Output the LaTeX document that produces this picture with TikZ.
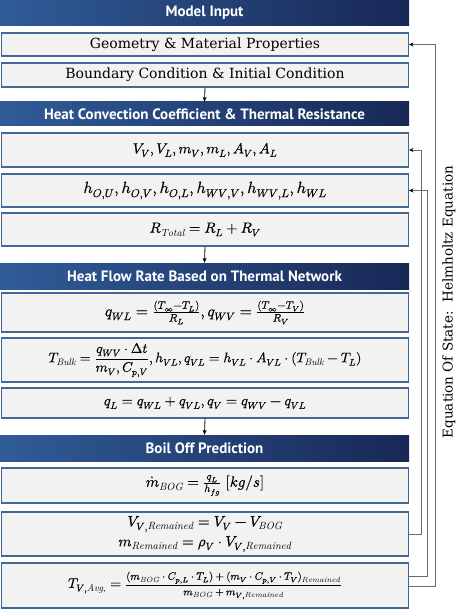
\documentclass[tikz,border=0pt]{standalone}
\usepackage{fontspec}
\usepackage{unicode-math}
\setmathfont{Latin Modern Math}[FakeBold=0.5]
\newfontfamily\hdfont{PT Sans}
\newfontfamily\bxfont{DejaVu Serif}
\usetikzlibrary{arrows.meta}
\definecolor{hdL}{RGB}{48,92,152}
\definecolor{hdR}{RGB}{24,40,86}
\definecolor{boxfill}{RGB}{242,242,242}
\definecolor{boxline}{RGB}{66,104,150}
\definecolor{connc}{RGB}{105,105,105}
\begin{document}
\begin{tikzpicture}[x=1pt,y=-1pt,
  hdr/.style={left color=hdL, right color=hdR, draw=none, minimum width=409pt, inner sep=0pt,
    font=\hdfont\bfseries\fontsize{15}{17}\selectfont, text=white},
  bx/.style={draw=boxline, fill=boxfill, line width=1.3pt, minimum width=406.7pt, inner sep=0pt, align=center},
  tx/.style={font=\bxfont\fontsize{14}{16}\selectfont},
  downarr/.style={-{Stealth[length=5pt,width=4pt]}, line width=0.8pt, black},
  fb/.style={draw=connc, line width=0.9pt, -{Stealth[length=4.5pt,width=4pt,color=black]}}
]
\useasboundingbox (0,0) rectangle (465,609);

\node[hdr, minimum height=26pt] (h1) at (204.5,13) {Model Input};
\node[bx, tx, minimum height=23pt] (geo) at (205,44.5) {Geometry \& Material Properties};
\node[bx, tx, minimum height=24pt] (bc) at (205,75) {Boundary Condition \& Initial Condition};

\node[hdr, minimum height=24pt] (h2) at (204.5,114) {Heat Convection Coefficient \& Thermal Resistance};
\node[bx, minimum height=34pt, font=\fontsize{14.5}{16}\selectfont] (bv) at (205,150) {$V_V, V_L, m_V, m_L, A_V, A_L$};
\node[bx, minimum height=33pt, font=\fontsize{16.3}{19}\selectfont] (bh) at (205,190.5) {$h_{O,U}, h_{O,V}, h_{O,L}, h_{WV,V}, h_{WV,L}, h_{WL}$};
\node[bx, minimum height=33pt, font=\fontsize{14.6}{17}\selectfont] (br) at (205,229.5) {$R_{\mathit{Total}} = R_L + R_V$};

\node[hdr, minimum height=26pt] (h3) at (204.5,276) {Heat Flow Rate Based on Thermal Network};
\node[bx, minimum height=39pt, font=\fontsize{15.6}{18}\selectfont] (bq) at (205,312.5)
  {$q_{WL} = \frac{(T_\infty - T_L)}{R_L}, q_{WV} = \frac{(T_\infty - T_V)}{R_V}$};
\node[bx, minimum height=44pt, font=\fontsize{13.8}{17}\selectfont] (bt) at (205,360)
  {$T_{\mathit{Bulk}} = \dfrac{q_{WV}\cdot\Delta t}{m_V, C_{p,V}}, h_{VL}, q_{VL} = h_{VL}\cdot A_{VL}\cdot (T_{\mathit{Bulk}} - T_L)$};
\node[bx, minimum height=30pt, font=\fontsize{14.4}{17}\selectfont] (bql) at (205,403)
  {$q_L = q_{WL} + q_{VL}, q_V = q_{WV} - q_{VL}$};

\node[hdr, minimum height=26pt] (h4) at (204.5,448) {Boil Off Prediction};
\node[bx, minimum height=35pt, font=\fontsize{15}{18}\selectfont] (bm) at (205,485.5)
  {$\dot{m}_{\mathit{BOG}} = \frac{q_L}{h_{fg}}\ [kg/s]$};
\node[bx, minimum height=44pt, font=\fontsize{15}{19}\selectfont] (bvr) at (205,534)
  {$V_{V,\mathit{Remained}} = V_V - V_{\mathit{BOG}}$\\[1pt]$m_{\mathit{Remained}} = \rho_V\cdot V_{V,\mathit{Remained}}$};
\node[bx, minimum height=45pt, font=\fontsize{10.7}{13}\selectfont] (bta) at (205,585.5)
  {{\fontsize{14}{17}\selectfont$T_{V,\mathit{Avg.}} = {}$}$\dfrac{(m_{\mathit{BOG}}\cdot C_{p,L}\cdot T_L) + (m_V\cdot C_{p,V}\cdot T_V)_{\mathit{Remained}}}{m_{\mathit{BOG}} + m_{V,\mathit{Remained}}}$};

\draw[downarr] (bc.south) -- (h2.north);
\draw[downarr] (br.south) -- (h3.north);
\draw[downarr] (bql.south) -- (h4.north);

\draw[fb] ([yshift=-1pt]bta.east) -- ++(26,0) |- (geo.east);
\draw[fb] ([yshift=9.5pt]bta.east) -- ++(18,0) |- (bh.east);
\draw[fb] (bvr.east) -- ++(12,0) |- (bv.east);

\node[rotate=90, font=\bxfont\fontsize{13.5}{16}\selectfont] (eos) at (449,302) {Equation Of State:\ \ Helmholtz Equation};
\end{tikzpicture}
\end{document}
